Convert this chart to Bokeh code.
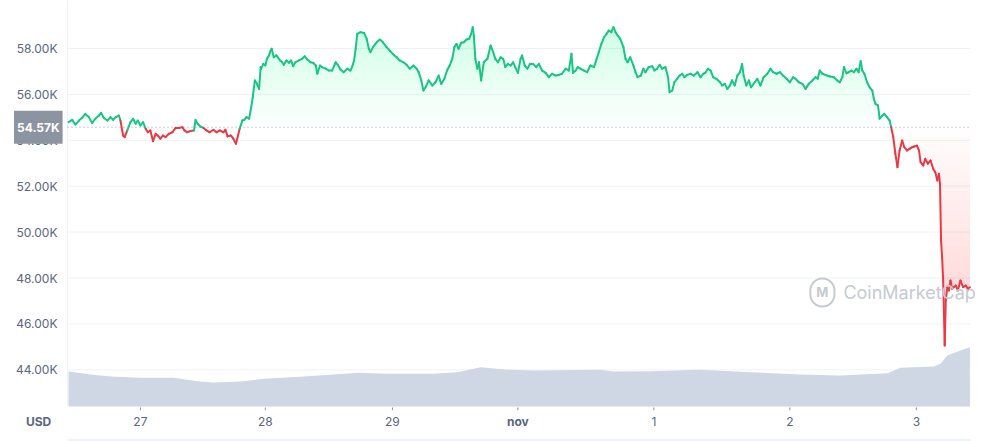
import numpy as np
from bokeh.plotting import figure
from bokeh.models import Range1d, Label, BoxAnnotation
from bokeh.core.properties import value
from bokeh.embed import file_html
from bokeh.resources import INLINE

# ---- data (time in hours from the left edge, price in thousands of USD) ----
hours = [
    0.0, 0.7, 1.3, 2.0, 2.6, 3.2, 3.9, 4.5, 5.1, 5.8, 6.2, 6.7, 7.4, 8.0, 8.5, 9.0, 9.6, 9.9,
    10.4, 10.7, 11.2, 11.8, 12.3, 12.8, 13.2, 13.7, 14.2, 14.7, 15.1, 15.6, 16.1, 16.6, 17.0,
    17.5, 18.0, 18.5, 19.1, 19.8, 20.4, 21.0, 21.7, 22.1, 22.6, 23.2, 23.9, 24.2, 24.6, 25.1,
    25.7, 26.3, 26.9, 27.6, 28.2, 28.8, 29.5, 29.9, 30.3, 30.9, 31.4, 31.9, 32.3, 32.6, 33.1,
    33.5, 33.9, 34.4, 34.8, 35.1, 35.5, 35.9, 36.3, 36.6,
    36.7, 37.1, 37.5, 37.8, 38.2, 38.5, 38.7, 39.1, 39.6, 40.3, 40.7, 41.0, 41.5, 42.0, 42.4,
    42.8, 43.2, 43.9, 44.5, 45.0, 45.5, 46.1, 46.6, 47.1, 47.4, 47.9, 48.3, 49.0, 49.6, 50.2,
    50.9, 51.3, 51.8, 52.4, 53.1, 53.7, 54.0, 54.4, 54.7, 55.0, 55.6, 56.3, 56.8, 57.2, 57.5,
    58.0, 58.7, 59.3, 59.9, 60.6, 61.2, 61.9, 62.5, 63.1, 63.8, 64.4, 65.0, 65.7, 66.3, 66.7,
    67.2, 67.6, 68.0, 68.6, 69.3, 69.9, 70.5, 71.0,
    71.6, 72.1, 72.6, 73.1, 73.5, 73.9, 74.3, 74.8, 75.3, 75.8, 76.3, 76.7, 77.0, 77.2, 77.5,
    77.9, 78.2, 78.6, 79.1, 79.8, 80.4, 80.9, 81.3, 81.8, 82.3, 82.8, 83.2, 83.7, 84.2, 84.7,
    85.1, 85.6, 86.1, 86.4, 86.9, 87.4, 87.9, 88.5, 89.1, 89.6, 90.2, 90.9, 91.5, 92.1, 92.8,
    93.4, 94.0, 94.7, 95.3, 95.8, 96.1, 96.6, 97.0, 97.5, 98.2, 98.8, 99.4, 100.1, 100.6,
    101.0, 101.5, 102.0, 102.5, 102.9, 103.4, 103.8, 104.2, 104.6, 105.1, 105.7, 106.1,
    106.5, 107.0, 107.6, 108.0, 108.4,
    109.0, 109.5, 109.9, 110.5, 111.2, 111.6, 112.1, 112.6, 113.1, 113.7, 114.2, 114.5,
    115.0, 115.4, 115.9, 116.4, 116.9, 117.3, 117.8, 118.5, 119.1, 119.8, 120.4, 120.9,
    121.3, 121.8, 122.3, 122.8, 123.4, 124.1, 124.5, 125.0, 125.5, 126.0, 126.4, 126.9,
    127.4, 127.9, 128.3, 128.6, 129.1, 129.6, 130.0, 130.7, 131.2, 131.8, 132.4, 133.1,
    133.7, 134.2, 134.9, 135.5, 136.1, 136.8, 137.4, 138.0, 138.5, 139.1, 139.8, 140.4,
    141.0, 141.7, 142.3, 142.7, 143.1, 143.6,
    144.5, 145.1, 145.8, 146.4, 146.9, 147.4, 147.7, 148.2, 148.6, 149.1, 149.6, 150.1,
    150.5, 150.9, 151.2, 151.6, 152.1, 152.6, 153.1, 153.4, 153.7, 154.2, 154.5, 155.0,
    155.4, 155.9, 156.4, 156.7, 157.1, 157.5, 157.9, 158.3, 158.8, 159.2, 159.7, 160.2,
    160.7, 161.1, 161.6, 162.0, 162.3, 162.8, 163.2, 163.7, 164.2, 164.7, 165.1, 165.5,
    165.8, 166.0, 166.2, 166.4, 166.6, 166.9, 167.1, 167.4, 167.7, 168.0, 168.3, 168.6,
    169.0, 169.4, 169.9, 170.4, 170.9, 171.3, 171.7,
]
price_k = [
    54.79, 54.89, 54.69, 54.86, 54.98, 55.15, 55.01, 54.75, 54.94, 55.08, 55.20, 54.98, 54.86,
    55.01, 54.89, 55.01, 55.08, 54.86, 54.21, 54.14, 54.43, 54.79, 54.94, 54.72, 54.86, 54.65,
    54.79, 54.50, 54.35, 54.43, 53.96, 54.28, 54.21, 54.07, 54.21, 54.14, 54.28, 54.35, 54.54,
    54.54, 54.57, 54.43, 54.35, 54.40, 54.43, 54.89, 54.72, 54.60, 54.54, 54.43, 54.35, 54.46,
    54.35, 54.43, 54.35, 54.46, 54.17, 54.21, 54.07, 53.85, 54.21, 54.50, 54.86, 54.89, 55.01,
    54.94, 55.44, 55.88, 56.61, 56.46, 56.24, 57.19,
    57.12, 57.33, 57.26, 57.55, 57.70, 57.91, 57.99, 57.62, 57.70, 57.48, 57.40, 57.29, 57.48,
    57.38, 57.48, 57.23, 57.40, 57.48, 57.55, 57.66, 57.52, 57.40, 57.38, 57.26, 56.90, 57.26,
    57.19, 57.12, 57.04, 57.04, 57.40, 57.29, 57.09, 56.97, 57.12, 57.04, 57.19, 57.48, 57.99,
    58.64, 58.71, 58.68, 58.42, 57.99, 57.84, 58.06, 58.27, 58.39, 58.27, 58.06, 57.91, 57.73,
    57.62, 57.48, 57.40, 57.29, 57.12, 57.26, 57.12, 56.97, 56.61, 56.17, 56.31, 56.61, 56.39,
    56.53, 56.82, 56.46,
    56.68, 57.04, 57.26, 57.55, 58.06, 58.20, 57.99, 58.25, 58.27, 58.39, 58.42, 58.64, 58.93,
    58.57, 57.55, 57.12, 57.40, 56.61, 57.40, 57.55, 58.13, 57.84, 57.55, 57.40, 57.62, 57.55,
    57.19, 57.33, 57.26, 57.40, 57.19, 56.94, 57.55, 57.70, 57.26, 57.12, 57.33, 57.33, 57.19,
    57.33, 57.04, 56.94, 56.75, 56.90, 56.82, 56.85, 56.90, 57.12, 57.04, 57.77, 56.94, 57.04,
    57.19, 57.12, 57.04, 56.97, 57.26, 57.19, 57.55, 57.84, 58.20, 58.49, 58.64, 58.78, 58.71,
    58.93, 58.71, 58.57, 58.42, 58.06, 57.55, 57.40, 57.62, 57.26, 56.97, 56.75,
    56.82, 57.12, 56.97, 57.19, 57.23, 57.04, 57.12, 57.29, 57.12, 57.19, 56.75, 56.10, 56.17,
    56.53, 56.68, 56.82, 56.90, 56.75, 56.85, 56.90, 56.82, 56.97, 56.75, 56.90, 56.94, 57.12,
    57.04, 56.75, 56.68, 56.53, 56.39, 56.46, 56.24, 56.39, 56.61, 56.39, 56.82, 56.97, 57.33,
    56.82, 56.39, 56.61, 56.31, 56.53, 56.68, 56.39, 56.75, 56.90, 57.12, 56.97, 56.90, 56.97,
    56.82, 56.68, 56.53, 56.75, 56.68, 56.53, 56.46, 56.24, 56.46, 56.61, 56.75, 56.68, 57.04,
    56.90,
    56.82, 56.78, 56.75, 56.61, 56.53, 56.75, 57.19, 56.92, 56.97, 57.04, 56.97, 57.12, 56.97,
    57.45, 57.04, 56.90, 56.53, 56.31, 56.17, 55.81, 55.59, 55.52, 54.94, 55.08, 55.15, 55.01,
    54.86, 54.57, 54.14, 53.41, 52.83, 53.56, 53.99, 53.70, 53.56, 53.63, 53.70, 53.73, 53.77,
    53.56, 53.05, 52.90, 53.19, 52.98, 53.12, 52.76, 52.61, 52.25, 52.54, 52.10, 49.63, 48.91,
    47.89, 45.06, 47.02, 47.60, 47.46, 47.89, 47.53, 47.60, 47.67, 47.46, 47.89, 47.60, 47.67,
    47.53, 47.60,
]
vol_hours = [0.0, 4.2, 8.0, 13.7, 20.0, 22.3, 25.1, 27.6, 32.8, 37.1, 44.2, 50.5, 55.2, 60.8,
             69.5, 74.1, 78.5, 83.6, 88.6, 101.3, 103.8, 110.9, 120.4, 129.9, 139.4, 147.0,
             156.0, 158.5, 164.8, 166.1, 167.4, 169.9, 171.7]
vol_billion = [35.0, 32.0, 30.0, 28.7, 28.7, 27.0, 25.0, 24.0, 25.0, 27.7, 29.7, 32.0, 33.7,
               32.7, 32.7, 34.3, 39.3, 36.7, 36.0, 36.7, 35.0, 35.3, 36.7, 34.3, 32.0, 31.0,
               33.3, 38.7, 40.0, 42.7, 51.0, 56.0, 59.3]
baseline_k = 54.57
baseline_text = "54.57K"
y_ticks = [44, 46, 48, 50, 52, 54, 56, 58]
y_tick_labels = ["44.00K", "46.00K", "48.00K", "50.00K", "52.00K", "54.00K", "56.00K", "58.00K"]
x_tick_hours = [13.7, 37.5, 61.7, 85.6, 111.5, 137.4, 161.5]
x_tick_labels = ["27", "28", "29", "nov", "1", "2", "3"]
x_tick_bold = [False, False, False, True, False, False, False]
currency = "USD"

GREEN = "#16c784"
RED = "#ea3943"
GREY_TXT = "#58667e"
FONT = "Inter"

# plotting window (hours / thousands USD); the frame fills the whole canvas
X0, X1 = -0.19, 171.8          # visible chart area, left / right
Y_BOTTOM = 42.401              # bottom of the chart area
Y_TOP = 60.09
LABEL_Y = 41.74                # row of the time labels

p = figure(width=992, height=441, output_backend="svg", toolbar_location=None,
           x_range=Range1d(-12.952, 176.0), y_range=Range1d(40.876, 60.092),
           x_axis_location=None, y_axis_location=None,
           min_border=0, min_border_left=0, min_border_right=0,
           min_border_top=0, min_border_bottom=0)
p.outline_line_color = None
p.grid.visible = False
p.background_fill_color = "white"
p.border_fill_color = "white"
p.extra_y_ranges = {"vol": Range1d(-35, 406)}

# navigator strip at the very bottom
p.add_layout(BoxAnnotation(left=X0, right=X1, top=40.99, bottom=40.876,
                           fill_color="#eef3fb", fill_alpha=1.0, line_color=None))

# horizontal grid lines
p.segment(x0=X0, x1=X1, y0=y_ticks, y1=y_ticks, line_color="#eff2f5", line_width=1)
# left frame line
p.segment(x0=X0, x1=X0, y0=Y_BOTTOM, y1=Y_TOP, line_color="#eef1f5", line_width=1)

# volume area
p.varea(x=vol_hours, y1=0, y2=vol_billion, y_range_name="vol", fill_color="#cfd6e4", fill_alpha=1.0)

h = np.array(hours)
pr = np.array(price_k)

# gradient fills (stacked translucent layers)
n_layers = 24
top_k = 59.0
a_g = 1 - (1 - 0.20) ** (1 / n_layers)
for k in range(n_layers):
    t = baseline_k + k * (top_k - baseline_k) / n_layers
    p.varea(x=h, y1=t, y2=np.maximum(pr, t), fill_color=GREEN, fill_alpha=a_g)
bot_k = 45.0
a_r = 1 - (1 - 0.28) ** (1 / n_layers)
for k in range(n_layers):
    t = baseline_k - k * (baseline_k - bot_k) / n_layers
    p.varea(x=h, y1=np.minimum(pr, t), y2=t, fill_color=RED, fill_alpha=a_r)

# baseline (dotted)
p.segment(x0=X0, x1=X1, y0=baseline_k, y1=baseline_k, line_color="#9aa1ad",
          line_dash="1 3", line_width=1)

# price line coloured by side of the baseline
mid = (pr[:-1] + pr[1:]) / 2
colors = [GREEN if m >= baseline_k else RED for m in mid]
p.segment(x0=h[:-1], y0=pr[:-1], x1=h[1:], y1=pr[1:], line_color=colors,
          line_width=2, line_cap="round")

# y tick labels
p.text(x=-2.1, y=y_ticks, text=y_tick_labels, text_font=value(FONT), text_font_size="12px",
       text_color=GREY_TXT, text_align="right", text_baseline="middle")

# x ticks and labels
p.segment(x0=x_tick_hours, x1=x_tick_hours, y0=Y_BOTTOM - 0.04, y1=Y_BOTTOM - 0.16,
          line_color="#8a93a3", line_width=1)
norm_x = [t for t, b in zip(x_tick_hours, x_tick_bold) if not b]
norm_l = [l for l, b in zip(x_tick_labels, x_tick_bold) if not b]
bold_x = [t for t, b in zip(x_tick_hours, x_tick_bold) if b]
bold_l = [l for l, b in zip(x_tick_labels, x_tick_bold) if b]
p.text(x=norm_x, y=LABEL_Y, text=norm_l, text_font=value(FONT), text_font_size="12px",
       text_color=GREY_TXT, text_align="center", text_baseline="middle")
p.text(x=bold_x, y=LABEL_Y, text=bold_l, text_font=value(FONT), text_font_size="12px",
       text_font_style="bold", text_color=GREY_TXT, text_align="center", text_baseline="middle")

p.add_layout(Label(x=-5.7, y=LABEL_Y, text=currency, text_font=FONT, text_font_size="12px",
                   text_font_style="bold", text_color=GREY_TXT,
                   text_align="center", text_baseline="middle"))

# current price tag
p.add_layout(Label(x=-5.75, y=baseline_k, text=baseline_text, text_font=FONT,
                   text_font_size="12px", text_font_style="bold", text_color="white",
                   text_align="center", text_baseline="middle",
                   background_fill_color="#8d94a1", padding=(3, 9)))

# watermark
p.add_layout(Label(x=147.6, y=47.37, text="CoinMarketCap", text_font=FONT,
                   text_font_size="18px", text_color="#c6cad1",
                   text_align="left", text_baseline="middle"))
p.add_layout(Label(x=143.6, y=47.37, text="M", text_font=FONT,
                   text_font_size="13px", text_color="#c6cad1", text_font_style="bold",
                   text_align="center", text_baseline="middle",
                   border_line_color="#c6cad1", border_line_width=2,
                   border_radius=12, padding=(6, 6)))

open("out.html", "w").write(file_html(p, INLINE))
